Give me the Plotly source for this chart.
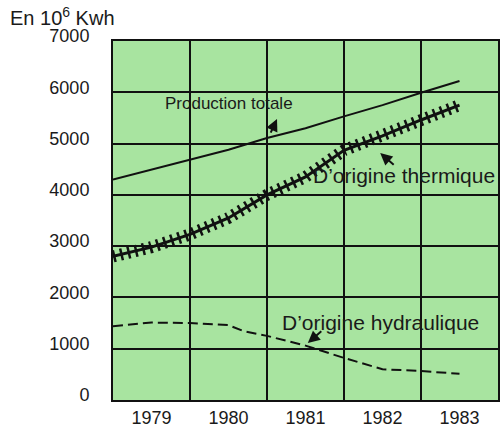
import plotly.graph_objects as go

# ---- data ----
years_total = [1978.5, 1979.0, 1979.5, 1980.0, 1980.5, 1981.0, 1981.5, 1982.0, 1982.5, 1983.0]
total = [4300, 4490, 4680, 4880, 5110, 5300, 5530, 5750, 5990, 6220]

years_therm = [1978.5, 1979.0, 1979.5, 1980.0, 1980.5, 1981.0, 1981.5, 1982.0, 1982.5, 1983.0]
thermique = [2800, 2980, 3230, 3550, 4000, 4350, 4870, 5150, 5460, 5750]

years_hydro = [1978.5, 1979.0, 1979.5, 1980.0, 1980.2, 1980.5, 1981.0, 1981.5, 1982.0, 1982.5, 1983.0]
hydraulique = [1440, 1510, 1500, 1460, 1340, 1250, 1060, 820, 600, 565, 510]

year_labels = [1979, 1980, 1981, 1982, 1983]
y_ticks = [0, 1000, 2000, 3000, 4000, 5000, 6000, 7000]

FONT = "Liberation Sans, Arial, sans-serif"
TXT = "#1a1a1a"
INK = "#111111"
GREEN = "#a8e4a0"

fig = go.Figure()

fig.add_trace(go.Scatter(x=years_total, y=total, mode="lines",
                         line=dict(color=INK, width=2), hoverinfo="skip"))
# thermique: solid line + hatch ticks (thick, short dashes)
fig.add_trace(go.Scatter(x=years_therm, y=thermique, mode="lines",
                         line=dict(color=INK, width=3), hoverinfo="skip"))
fig.add_trace(go.Scatter(x=years_therm, y=thermique, mode="lines",
                         line=dict(color=INK, width=12, dash="2.5px,5px"), hoverinfo="skip"))
fig.add_trace(go.Scatter(x=years_hydro, y=hydraulique, mode="lines",
                         line=dict(color=INK, width=2, dash="10px,5px"), hoverinfo="skip"))

ann = []
ann.append(dict(x=1980.0, y=5790, text="Production totale", showarrow=False,
                font=dict(family=FONT, size=17, color=TXT)))
ann.append(dict(x=1982.28, y=4370, text="D’origine thermique", showarrow=False,
                font=dict(family=FONT, size=21, color=TXT)))
ann.append(dict(x=1981.98, y=1520, text="D’origine hydraulique", showarrow=False,
                font=dict(family=FONT, size=21, color=TXT)))
# arrows
for (hx, hy, ax, ay) in [(1980.63, 5478, -7, 15), (1981.97, 4815, 15, 13), (1981.03, 1111, 15, -13)]:
    ann.append(dict(x=hx, y=hy, ax=ax, ay=ay, text="", showarrow=True,
                    arrowhead=2, arrowsize=1.2, arrowwidth=2, arrowcolor=INK))
# y axis title
ann.append(dict(xref="paper", yref="paper", x=-0.274, y=1.067, xanchor="left", yanchor="middle",
                text="En 10<sup>6</sup> Kwh", showarrow=False,
                font=dict(family=FONT, size=20, color=TXT)))

fig.update_layout(
    width=503, height=428,
    margin=dict(l=113, r=5, t=41, b=28, autoexpand=False),
    paper_bgcolor="white",
    plot_bgcolor=GREEN,
    showlegend=False,
    annotations=ann,
    xaxis=dict(range=[1978.5, 1983.5], tickvals=year_labels, ticktext=[str(v) for v in year_labels],
               showgrid=False, zeroline=False, ticks="", automargin=False,
               showline=True, mirror=True, linecolor=INK, linewidth=2,
               ticklabelstandoff=0,
               tickfont=dict(family=FONT, size=18, color=TXT),
               minor=dict(tick0=1978.5, dtick=1, showgrid=True, gridcolor=INK, gridwidth=2, ticks="")),
    yaxis=dict(range=[0, 7000], tickvals=y_ticks, ticktext=[str(v) for v in y_ticks],
               showgrid=True, gridcolor=INK, gridwidth=2, zeroline=False, ticks="", automargin=False,
               showline=True, mirror=True, linecolor=INK, linewidth=2,
               ticklabelstandoff=18, ticklabelshift=-5,
               tickfont=dict(family=FONT, size=18, color=TXT)),
)

fig.write_html("out.html", config={"displayModeBar": False},
               post_script="document.body.style.margin='0';")
